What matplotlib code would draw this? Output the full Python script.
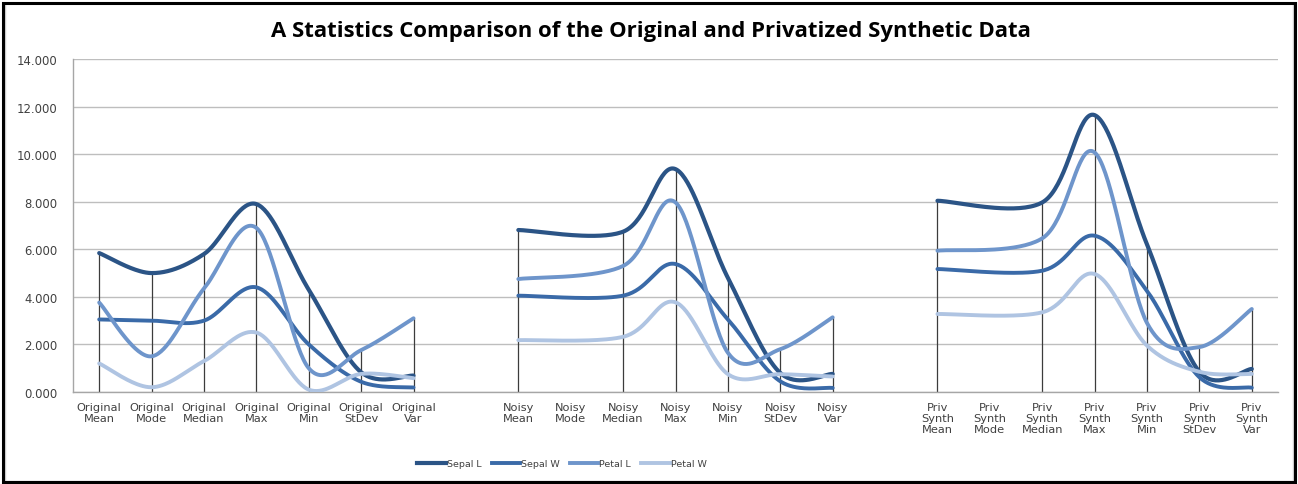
import numpy as np
import matplotlib
matplotlib.use("Agg")
import matplotlib.pyplot as plt
from matplotlib.lines import Line2D
from matplotlib.patches import Rectangle

# ---- data -------------------------------------------------------------
categories = [
    "Original\nMean", "Original\nMode", "Original\nMedian", "Original\nMax",
    "Original\nMin", "Original\nStDev", "Original\nVar",
    "",
    "Noisy\nMean", "Noisy\nMode", "Noisy\nMedian", "Noisy\nMax",
    "Noisy\nMin", "Noisy\nStDev", "Noisy\nVar",
    "",
    "Priv\nSynth\nMean", "Priv\nSynth\nMode", "Priv\nSynth\nMedian", "Priv\nSynth\nMax",
    "Priv\nSynth\nMin", "Priv\nSynth\nStDev", "Priv\nSynth\nVar",
]

nan = np.nan
sepal_l = [5.84, 5.00, 5.80, 7.90, 4.30, 0.83, 0.69, nan,
           6.81, nan, 6.74, 9.37, 4.80, 0.80, 0.76, nan,
           8.04, nan, 7.97, 11.64, 6.20, 0.85, 0.97]
sepal_w = [3.05, 3.00, 3.00, 4.40, 2.00, 0.43, 0.19, nan,
           4.05, nan, 4.05, 5.38, 3.05, 0.45, 0.17, nan,
           5.17, nan, 5.10, 6.57, 4.25, 0.62, 0.18]
petal_l = [3.76, 1.50, 4.35, 6.90, 1.00, 1.76, 3.10, nan,
           4.75, nan, 5.30, 7.97, 1.65, 1.80, 3.14, nan,
           5.94, nan, 6.46, 10.07, 2.90, 1.89, 3.49]
petal_w = [1.20, 0.20, 1.30, 2.50, 0.10, 0.76, 0.58, nan,
           2.18, nan, 2.32, 3.77, 0.75, 0.75, 0.65, nan,
           3.28, nan, 3.35, 4.96, 1.95, 0.85, 0.76]

series_names = ["Sepal L", "Sepal W", "Petal L", "Petal W"]
series_values = [sepal_l, sepal_w, petal_l, petal_w]
series_colors = ["#2B5486", "#3A6AA8", "#6E95CB", "#AFC4E2"]
series_widths = [3.0, 2.8, 2.8, 2.8]

# category slots that separate the three blocks
breaks = [7, 15]


def smooth_segment(xs, ys, n=40):
    """Bezier smoothing through the given points (Excel-style, tension 1/6)."""
    pts = np.column_stack([xs, ys])
    if len(pts) < 2:
        return pts[:, 0], pts[:, 1]
    out = []
    for i in range(len(pts) - 1):
        p0 = pts[i - 1] if i > 0 else pts[i]
        p1 = pts[i]
        p2 = pts[i + 1]
        p3 = pts[i + 2] if i + 2 < len(pts) else pts[i + 1]
        c1 = p1 + (p2 - p0) / 6.0
        c2 = p2 - (p3 - p1) / 6.0
        t = np.linspace(0, 1, n)[:, None]
        seg = ((1 - t) ** 3) * p1 + 3 * ((1 - t) ** 2) * t * c1 \
            + 3 * (1 - t) * (t ** 2) * c2 + (t ** 3) * p2
        out.append(seg if i == 0 else seg[1:])
    curve = np.vstack(out)
    return curve[:, 0], curve[:, 1]


# ---- figure -----------------------------------------------------------
W, H = 1298, 485
fig = plt.figure(figsize=(W / 100, H / 100), dpi=100)
fig.patch.set_facecolor("white")

ax = fig.add_axes([73 / W, (H - 393) / H, (1278 - 73) / W, (393 - 60) / H])
ax.set_facecolor("white")

x = np.arange(len(categories))
ax.set_xlim(-0.5, len(categories) - 0.5)
ax.set_ylim(0, 14)

# horizontal gridlines
ax.set_yticks(np.arange(0, 15, 2))
ax.set_yticklabels([f"{v:.3f}" for v in np.arange(0, 15, 2)])
ax.grid(axis="y", color="#BEBEBE", linewidth=1.0, zorder=0)
ax.set_axisbelow(True)

# drop lines from the highest point of each category
values_arr = np.array(series_values, dtype=float)
for i in x:
    col = values_arr[:, i]
    if np.all(np.isnan(col)):
        continue
    ax.vlines(i, 0, np.nanmax(col), color="#3C3C3C", linewidth=0.9, zorder=2)

# smoothed series, broken between blocks
starts = [0, breaks[0] + 1, breaks[1] + 1]
ends = [breaks[0], breaks[1], len(categories)]
for vals, color, lw in zip(series_values, series_colors, series_widths):
    vals = np.array(vals, dtype=float)
    for s, e in zip(starts, ends):
        xs = x[s:e]
        ys = vals[s:e]
        keep = ~np.isnan(ys)
        cx, cy = smooth_segment(xs[keep].astype(float), ys[keep])
        ax.plot(cx, cy, color=color, linewidth=lw, solid_capstyle="round",
                solid_joinstyle="round", zorder=3)

# axes styling
for side in ["top", "right"]:
    ax.spines[side].set_visible(False)
ax.spines["left"].set_color("#A6A6A6")
ax.spines["bottom"].set_color("#A6A6A6")
ax.spines["left"].set_linewidth(1.0)
ax.spines["bottom"].set_linewidth(1.0)

ax.set_xticks(x)
ax.set_xticklabels(categories, fontsize=8.2, color="#404040",
                   family="DejaVu Sans", linespacing=1.15)
ax.tick_params(axis="x", length=0, pad=7)
ax.tick_params(axis="y", length=0, pad=11, labelsize=8.4, labelcolor="#404040")
for lab in ax.get_yticklabels():
    lab.set_family("DejaVu Sans")

# title
fig.text(651 / W, 1 - 32 / H,
         "A Statistics Comparison of the Original and Privatized Synthetic Data",
         ha="center", va="center", fontsize=15.9, fontweight="bold",
         family="Open Sans", color="#000000")

# legend
handles = [Line2D([0], [0], color=c, linewidth=lw) for c, lw in zip(series_colors, series_widths)]
fig.legend(handles, series_names, loc="center", bbox_to_anchor=(562 / W, 1 - 465 / H),
           ncol=4, frameon=False, handlelength=3.0, handletextpad=0.1,
           columnspacing=1.1, prop={"family": "DejaVu Sans", "size": 6.8})
for t in fig.legends[0].get_texts():
    t.set_color("#404040")

# outer chart frame
fig.patches.append(Rectangle((5 / W, 3 / H), (W - 10) / W, (H - 7) / H,
                             transform=fig.transFigure, fill=False,
                             edgecolor="#D0D0D0", linewidth=1.0))
fig.patches.append(Rectangle((3 / W, 2 / H), (W - 6) / W, (H - 6) / H,
                             transform=fig.transFigure, fill=False,
                             edgecolor="#000000", linewidth=2.2))

fig.savefig("out.png", dpi=100, facecolor="white")
